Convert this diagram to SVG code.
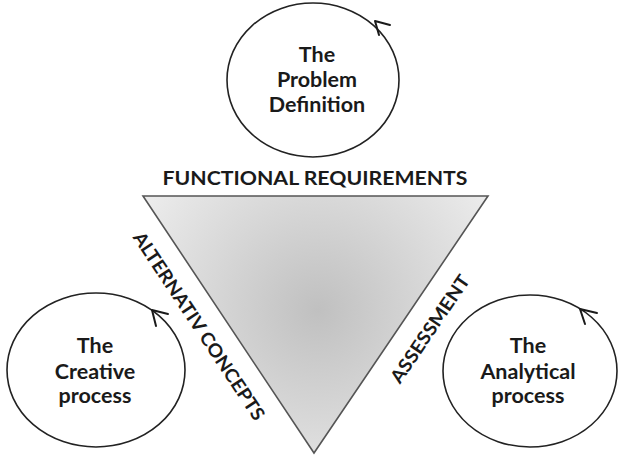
<svg xmlns="http://www.w3.org/2000/svg" width="619" height="458" viewBox="0 0 619 458">
<defs>
<radialGradient id="tri" gradientUnits="userSpaceOnUse" cx="318" cy="310" r="200">
<stop offset="0" stop-color="#c0c0c0"/>
<stop offset="1" stop-color="#ebebeb"/>
</radialGradient>
</defs>
<style>
.c{fill:none;stroke:#222;stroke-width:1.6}
.ar{fill:none;stroke:#1a1a1a;stroke-width:2;stroke-linecap:round;stroke-linejoin:round}
.t{font-family:Lato,"Open Sans",sans-serif;font-weight:bold;font-size:21.5px;fill:#1a1a1a;text-anchor:middle}
.l{font-family:Lato,"Open Sans",sans-serif;font-weight:bold;font-size:18.5px;fill:#1a1a1a;text-anchor:middle}
</style>
<rect width="619" height="458" fill="#fff"/>
<g id="triangle">
<polygon points="143,196 488,196 314,453" fill="url(#tri)" stroke="#555" stroke-width="1.6"/>
</g>
<g id="labels">
<text class="l" x="315" y="185" textLength="305" lengthAdjust="spacingAndGlyphs">FUNCTIONAL REQUIREMENTS</text>
<text class="l" transform="translate(199,326) rotate(56.4)" x="0" y="6.5" textLength="222" lengthAdjust="spacingAndGlyphs">ALTERNATIV CONCEPTS</text>
<text class="l" transform="translate(430,329) rotate(-55.9)" x="0" y="6.5" textLength="126" lengthAdjust="spacingAndGlyphs">ASSESSMENT</text>
</g>
<g id="problem">
<ellipse class="c" cx="313" cy="80" rx="86" ry="77"/>
<text class="t" x="317" y="62">The</text>
<text class="t" x="317" y="87">Problem</text>
<text class="t" x="317" y="112">Definition</text>
</g>
<g id="creative">
<ellipse class="c" cx="96" cy="370" rx="89" ry="77"/>
<text class="t" x="95" y="353">The</text>
<text class="t" x="95" y="379">Creative</text>
<text class="t" x="95" y="403">process</text>
</g>
<g id="analytical">
<ellipse class="c" cx="530" cy="371" rx="87" ry="76"/>
<text class="t" x="528" y="353">The</text>
<text class="t" x="528" y="379">Analytical</text>
<text class="t" x="528" y="403">process</text>
</g>
<g id="connectors">
<path class="ar" d="M390,25 L375,21 L379,35"/>
<path class="ar" d="M168,314 L152,310 L156,326"/>
<path class="ar" d="M597,313 L580,309 L585,324"/>
</g>
</svg>
